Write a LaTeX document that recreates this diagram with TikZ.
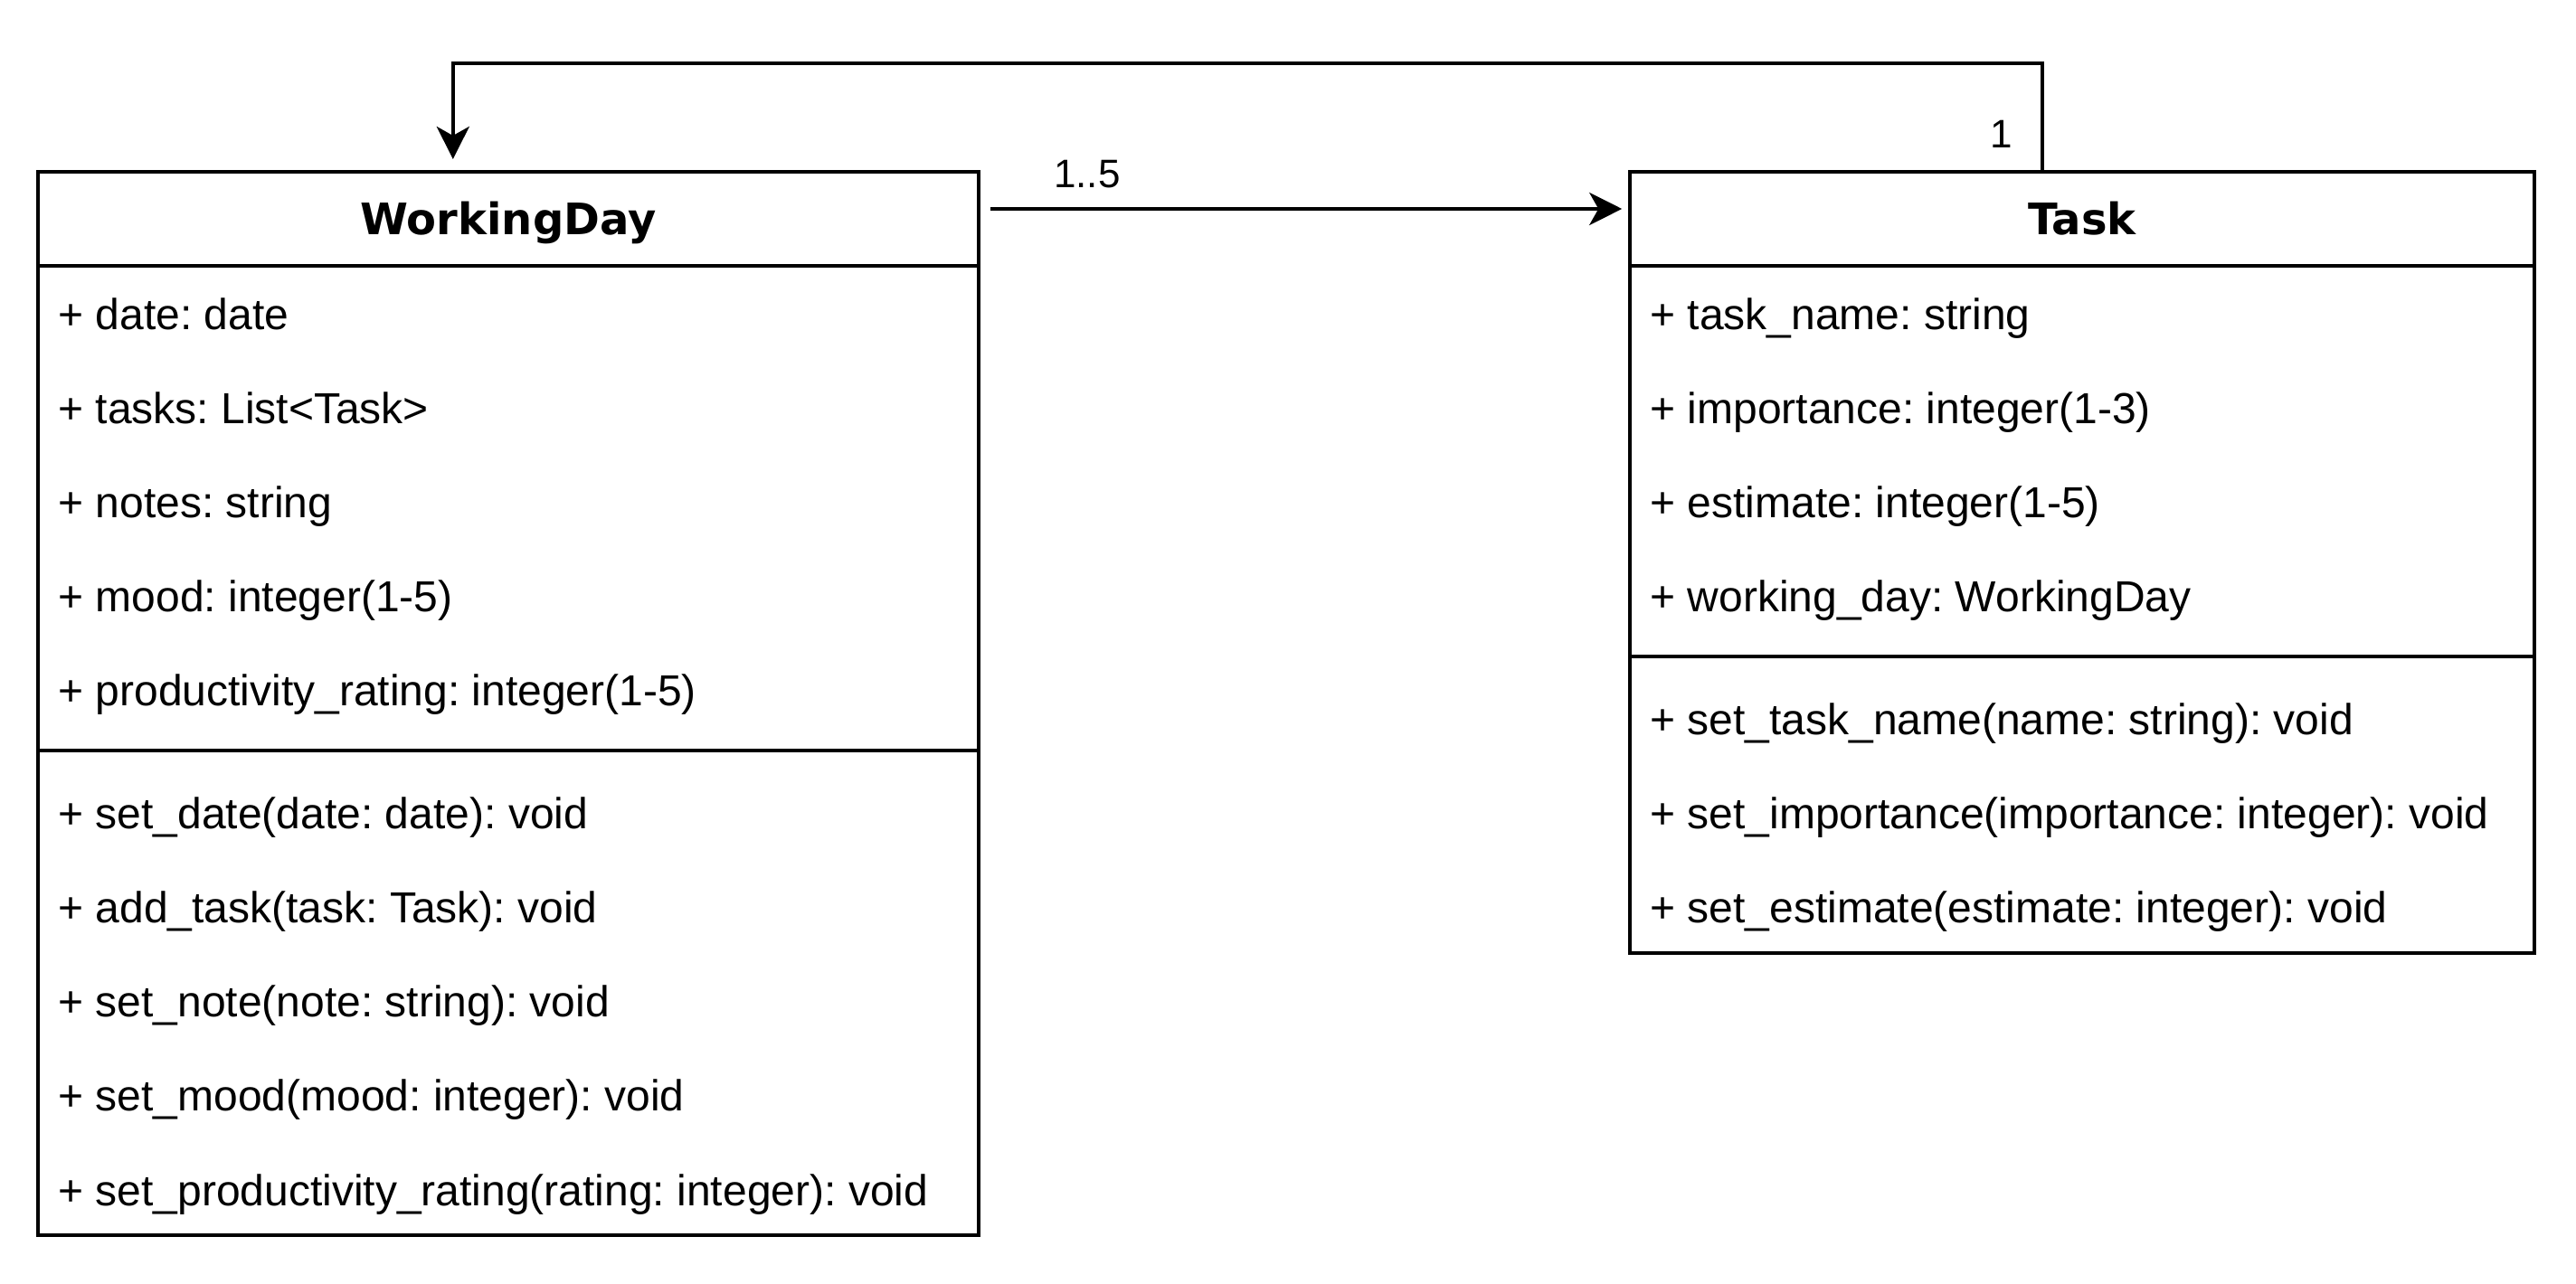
\documentclass[tikz,border=0pt]{standalone}
\usepackage{fontspec}
\setmainfont{Liberation Sans}
\newfontfamily\hdrfont{DejaVu Sans}
\usetikzlibrary{arrows.meta}
\frenchspacing
\begin{document}
\begin{tikzpicture}[x=1pt,y=-1pt,line width=1pt,
  classbox/.style={draw,line width=1pt,rectangle,anchor=north west,inner sep=0pt,outer sep=0pt},
  hdr/.style={anchor=base,inner sep=0pt,font=\hdrfont\bfseries\fontsize{12}{14}\selectfont},
  member/.style={anchor=base west,inner sep=0pt,font=\frenchspacing\fontsize{12}{14}\selectfont},
  mult/.style={anchor=base west,inner sep=0pt,font=\fontsize{11}{13}\selectfont},
  divider/.style={line width=1pt},
  assoc/.style={line width=1pt,-{Stealth[length=9pt,width=9pt,inset=2.5pt]}}]

\useasboundingbox[fill=white] (0,0) rectangle (712,355);

% WorkingDay class
\node[classbox,minimum width=260pt,minimum height=294pt] (wd) at (10.5,47.5) {};
\draw[divider] (10.5,73.5) -- (270.5,73.5);
\draw[divider] (10.5,207.5) -- (270.5,207.5);
\node[hdr] (wdtitle) at (140.5,65) {WorkingDay};
\node[member] (wda1) at (15.6,91.25) {+ date: date};
\node[member] (wda2) at (15.6,117.25) {+ tasks: List<Task>};
\node[member] (wda3) at (15.6,143.25) {+ notes: string};
\node[member] (wda4) at (15.6,169.25) {+ mood: integer(1-5)};
\node[member] (wda5) at (15.6,195.25) {+ productivity\_rating: integer(1-5)};
\node[member] (wdm1) at (15.6,229.25) {+ set\_date(date: date): void};
\node[member] (wdm2) at (15.6,255.25) {+ add\_task(task: Task): void};
\node[member] (wdm3) at (15.6,281.25) {+ set\_note(note: string): void};
\node[member] (wdm4) at (15.6,307.25) {+ set\_mood(mood: integer): void};
\node[member] (wdm5) at (15.6,333.25) {+ set\_productivity\_rating(rating: integer): void};

% Task class
\node[classbox,minimum width=250pt,minimum height=216pt] (task) at (450.5,47.5) {};
\draw[divider] (450.5,73.5) -- (700.5,73.5);
\draw[divider] (450.5,181.5) -- (700.5,181.5);
\node[hdr] (tasktitle) at (575.5,65) {Task};
\node[member] (ta1) at (455.6,91.25) {+ task\_name: string};
\node[member] (ta2) at (455.6,117.25) {+ importance: integer(1-3)};
\node[member] (ta3) at (455.6,143.25) {+ estimate: integer(1-5)};
\node[member] (ta4) at (455.6,169.25) {+ working\_day: WorkingDay};
\node[member] (tm1) at (455.6,203.25) {+ set\_task\_name(name: string): void};
\node[member] (tm2) at (455.6,229.25) {+ set\_importance(importance: integer): void};
\node[member] (tm3) at (455.6,255.25) {+ set\_estimate(estimate: integer): void};

% connectors
\coordinate (tasktop) at (564.4,47.5);
\coordinate (wdin) at (125.2,44);
\draw[assoc] (tasktop) -- (564.4,17.5) -| (wdin);
\coordinate (wdout) at (273.75,57.75);
\coordinate (taskin) at (448.3,57.75);
\draw[assoc] (wdout) -- (taskin);

% multiplicities
\node[mult] (m15) at (290.8,52) {1..5};
\node[mult] (m1) at (549.5,40.8) {1};
\end{tikzpicture}
\end{document}
